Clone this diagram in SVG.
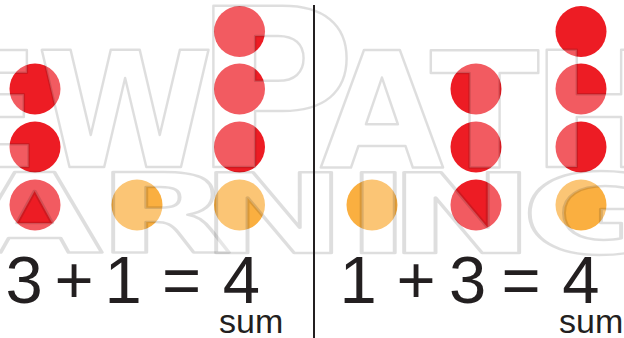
<svg xmlns="http://www.w3.org/2000/svg" width="624" height="338" viewBox="0 0 624 338">
<style>
.bg{fill:#fff}
.red{fill:#ED1C24}
.org{fill:#FAAF40}
.wm{font-family:"DejaVu Sans",sans-serif;font-weight:bold;fill:#fff;fill-opacity:.28;stroke:#000;stroke-opacity:.13;stroke-width:2.5;stroke-linejoin:round}
.eq{font-family:"Liberation Sans",Arial,sans-serif;font-size:67px;fill:#231F20;text-anchor:middle}
.sum{font-family:"Liberation Sans",Arial,sans-serif;font-size:34px;fill:#231F20}
.div{stroke:#231F20;stroke-width:2}
</style>
<rect class="bg" width="624" height="338"/>
<g id="left-dots">
<circle class="red" cx="35" cy="89" r="25.5"/>
<circle class="red" cx="35" cy="147" r="25.5"/>
<circle class="red" cx="35" cy="205" r="25.5"/>
<circle class="org" cx="137" cy="205" r="25.5"/>
<circle class="red" cx="239.5" cy="31.5" r="25.5"/>
<circle class="red" cx="239.5" cy="89" r="25.5"/>
<circle class="red" cx="239.5" cy="147" r="25.5"/>
<circle class="org" cx="239.5" cy="205" r="25.5"/>
</g>
<g id="right-dots">
<circle class="org" cx="372" cy="205" r="25.5"/>
<circle class="red" cx="476" cy="89" r="25.5"/>
<circle class="red" cx="476" cy="147" r="25.5"/>
<circle class="red" cx="476" cy="205" r="25.5"/>
<circle class="red" cx="581" cy="31.5" r="25.5"/>
<circle class="red" cx="581" cy="89" r="25.5"/>
<circle class="red" cx="581" cy="147" r="25.5"/>
<circle class="org" cx="581" cy="205" r="25.5"/>
</g>
<g id="watermark">
<text class="wm" font-size="160"><tspan x="-69" y="167">E</tspan><tspan x="37" y="167">W</tspan><tspan x="193" y="167" font-size="222">P</tspan><tspan x="320" y="167">A</tspan><tspan x="430" y="167">T</tspan><tspan x="532" y="167">H</tspan></text>
<text class="wm" font-size="110" transform="scale(1.6,1)" vector-effect="non-scaling-stroke"><tspan x="-21" y="253">A</tspan><tspan x="60.6" y="253">R</tspan><tspan x="125" y="253">N</tspan><tspan x="216" y="253">I</tspan><tspan x="242.5" y="253">N</tspan><tspan x="325.6" y="253">G</tspan></text>
</g>
<g id="connectors">
<line class="div" x1="314" y1="5" x2="314" y2="338"/>
</g>
<g id="left-equation">
<text class="eq"><tspan x="33.5" y="303">3</tspan> <tspan x="83.5" y="303">+</tspan> <tspan x="132.5" y="303">1</tspan> <tspan x="191" y="303">=</tspan> <tspan x="241.5" y="303">4</tspan></text>
<text class="sum" x="219" y="333">sum</text>
</g>
<g id="right-equation">
<text class="eq"><tspan x="367.5" y="303">1</tspan> <tspan x="425.5" y="303">+</tspan> <tspan x="477" y="303">3</tspan> <tspan x="530.5" y="303">=</tspan> <tspan x="581" y="303">4</tspan></text>
<text class="sum" x="559" y="333">sum</text>
</g>
</svg>
